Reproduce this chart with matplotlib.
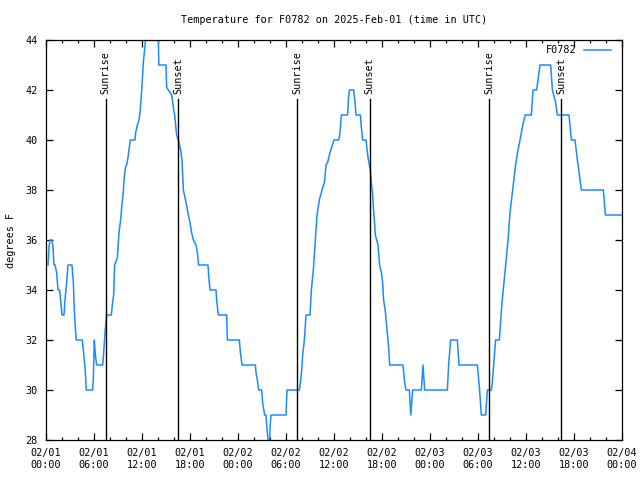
import matplotlib
matplotlib.use("Agg")
from matplotlib import pyplot as plt
from matplotlib.ticker import MultipleLocator

# hours since 2025-02-01 00:00 UTC, temperature in F
hours = [0.25, 0.375, 0.5, 0.75, 0.875, 1.0, 1.125, 1.33, 1.5, 1.71, 1.83, 2.0, 2.25, 2.375,
         2.58, 2.67, 2.75, 3.25, 3.42, 3.5, 3.625, 3.71, 3.79, 4.54, 4.67, 4.79, 4.92, 5.04,
         5.83, 5.92, 6.04, 6.125, 6.21, 6.33, 7.08, 7.17, 7.25, 7.375, 7.5, 7.58, 8.17, 8.29,
         8.46, 8.58, 8.92, 9.125, 9.33, 9.46, 9.625, 9.79, 9.92, 10.08, 10.25, 10.375, 10.54,
         11.125, 11.21, 11.42, 11.625, 11.79, 11.96, 12.17, 12.5, 12.8, 13.7, 14.04, 14.1,
         15.0, 15.08, 15.71, 15.83, 15.96, 16.08, 16.2, 16.33, 16.54, 16.83, 17.0, 17.17, 17.5,
         17.79, 18.0, 18.2, 18.42, 18.75, 18.92, 19.08, 20.25, 20.33, 20.5, 21.25, 21.33,
         21.54, 22.58, 22.67, 24.17, 24.3, 24.5, 26.17, 26.25, 26.42, 26.58, 26.96, 27.08,
         27.33, 27.5, 27.58, 27.7, 27.8, 27.95, 28.0, 28.125, 30.0, 30.125, 31.67, 31.8,
         31.96, 32.08, 32.3, 32.5, 33.0, 33.17, 33.42, 33.67, 33.875, 34.17, 34.5, 34.8, 35.0,
         35.2, 35.5, 36.0, 36.6, 36.75, 36.92, 37.7, 37.8, 37.92, 38.46, 38.6, 38.75, 39.3,
         39.42, 39.58, 40.0, 40.25, 40.54, 40.67, 40.83, 40.92, 41.04, 41.17, 41.33, 41.5,
         41.7, 41.92, 42.08, 42.2, 42.4, 42.54, 42.67, 42.83, 42.96, 44.625, 44.83, 45.0,
         45.42, 45.6, 45.83, 46.92, 47.125, 47.33, 50.17, 50.33, 50.58, 51.42, 51.625, 53.92,
         54.2, 54.42, 54.96, 55.17, 55.67, 55.79, 55.96, 56.2, 56.67, 56.83, 57.0, 57.25,
         57.46, 57.75, 58.0, 58.33, 58.7, 59.0, 59.25, 59.6, 59.9, 60.67, 60.875, 61.33,
         61.58, 61.75, 63.08, 63.3, 63.7, 63.92, 65.375, 65.67, 66.125, 66.42, 66.6, 66.92,
         69.67, 69.92, 71.9]
temps = [35.0, 35.7, 36.0, 36.0, 35.7, 35.0, 35.0, 34.7, 34.0, 34.0, 33.6, 33.0, 33.0, 33.6,
         34.3, 34.7, 35.0, 35.0, 34.3, 33.5, 32.7, 32.3, 32.0, 32.0, 31.6, 31.2, 30.7, 30.0,
         30.0, 30.5, 32.0, 31.6, 31.3, 31.0, 31.0, 31.3, 31.7, 32.3, 32.7, 33.0, 33.0, 33.4,
         33.8, 35.0, 35.3, 36.3, 36.8, 37.3, 37.8, 38.5, 38.9, 39.0, 39.3, 39.6, 40.0,
         40.0, 40.3, 40.6, 40.8, 41.2, 42.0, 43.1, 44.2, 44.6, 44.6, 44.2, 43.0,
         43.0, 42.1, 41.8, 41.5, 41.2, 41.0, 40.6, 40.2, 40.0, 39.6, 39.2, 38.0, 37.5,
         37.0, 36.7, 36.3, 36.0, 35.8, 35.5, 35.0, 35.0, 34.6, 34.0, 34.0, 33.6,
         33.0, 33.0, 32.0, 32.0, 31.5, 31.0, 31.0, 30.7, 30.4, 30.0, 30.0, 29.5,
         29.0, 29.0, 28.6, 28.2, 27.8, 27.8, 28.5, 29.0, 29.0, 30.0, 30.0, 30.3,
         30.8, 31.4, 32.0, 33.0, 33.0, 34.0, 34.8, 36.0, 37.0, 37.6, 38.0, 38.3, 39.0,
         39.1, 39.5, 40.0, 40.0, 40.3, 41.0, 41.0, 41.6, 42.0, 42.0, 41.6, 41.0, 41.0,
         40.5, 40.0, 40.0, 39.3, 38.8, 38.3, 37.8, 37.3, 36.8, 36.2, 36.0, 35.8,
         35.0, 34.7, 34.3, 33.6, 33.2, 32.7, 32.2, 31.7, 31.0, 31.0, 30.3, 30.0,
         30.0, 29.0, 30.0, 30.0, 31.0, 30.0, 30.0, 31.0, 32.0, 32.0, 31.0, 31.0,
         30.0, 29.0, 29.0, 30.0, 30.0, 30.3, 31.0, 32.0, 32.0, 32.7, 33.5, 34.3,
         35.0, 36.0, 37.1, 38.0, 39.0, 39.6, 40.0, 40.6, 41.0, 41.0, 42.0, 42.0,
         42.6, 43.0, 43.0, 42.0, 41.5, 41.0, 41.0, 40.0, 40.0, 39.2, 38.8, 38.0,
         38.0, 37.0, 37.0]

sun_hours = [7.45, 16.55, 31.4, 40.45, 55.42, 64.4]
sun_labels = ["Sunrise", "Sunset", "Sunrise", "Sunset", "Sunrise", "Sunset"]

tick_hours = [0, 6, 12, 18, 24, 30, 36, 42, 48, 54, 60, 66, 72]
tick_labels = ["02/01\n00:00", "02/01\n06:00", "02/01\n12:00", "02/01\n18:00",
               "02/02\n00:00", "02/02\n06:00", "02/02\n12:00", "02/02\n18:00",
               "02/03\n00:00", "02/03\n06:00", "02/03\n12:00", "02/03\n18:00",
               "02/04\n00:00"]

plt.rcParams['font.family'] = 'DejaVu Sans Mono'
fs = 7.3

fig = plt.figure(figsize=(6.4, 4.8), dpi=100)
ax = fig.add_axes([46/640, 40/480, 576/640, 400/480])

ax.plot(hours, temps, color='#1a8aff', linewidth=1.1, label='F0782')

for h, lab in zip(sun_hours, sun_labels):
    ax.plot([h, h], [28, 41.64], color='k', linewidth=1.0)
    ax.text(h, 41.82, lab, rotation=90, ha='center', va='bottom', fontsize=fs)

ax.set_xlim(0, 72)
ax.set_ylim(28, 44)
ax.set_xticks(tick_hours)
ax.set_xticklabels(tick_labels, fontsize=fs, linespacing=1.25)
ax.xaxis.set_minor_locator(MultipleLocator(2))
ax.set_yticks(range(28, 45, 2))
ax.tick_params(axis='y', labelsize=fs)
ax.tick_params(which='major', direction='in', length=5, width=0.9, top=True, right=True, pad=6)
ax.tick_params(which='minor', direction='in', length=2.5, width=0.9, top=True, right=False)
ax.tick_params(axis='y', which='minor', left=False, right=False)
for s in ax.spines.values():
    s.set_linewidth(0.9)

ax.set_ylabel('degrees F', fontsize=fs, labelpad=7)
ax.set_title('Temperature for F0782 on 2025-Feb-01 (time in UTC)', fontsize=fs, pad=12)

ax.legend(loc='upper right', frameon=False, fontsize=fs, markerfirst=False,
          handlelength=2.7, handletextpad=0.7, borderaxespad=0.1,
          bbox_to_anchor=(0.99, 1.0))

fig.savefig("out.png", dpi=100)
